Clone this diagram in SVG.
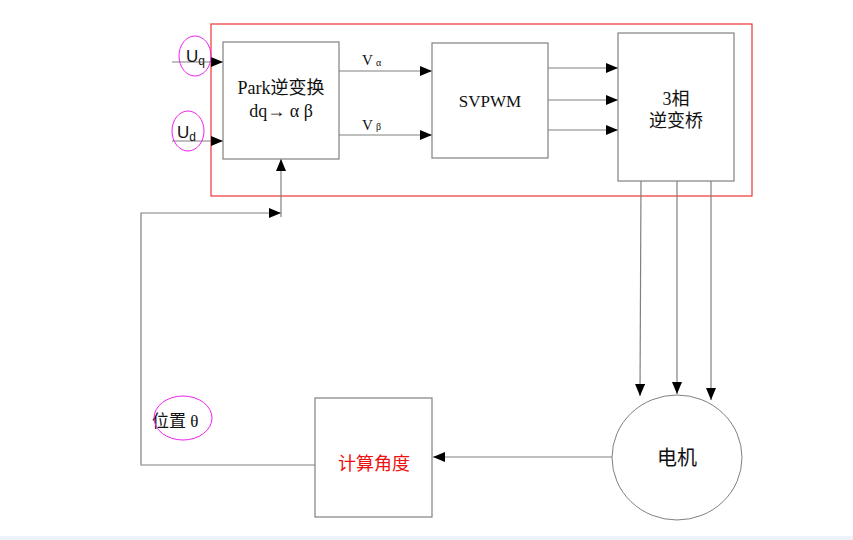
<svg xmlns="http://www.w3.org/2000/svg" width="853" height="540" viewBox="0 0 853 540">
<style>
.box{fill:#fff;stroke:#808080;stroke-width:1.2}
.ln{fill:none;stroke:#808080;stroke-width:1.2}
.ell{fill:none;stroke:#ee22ee;stroke-width:1}
.serif{font-family:"Liberation Serif","Noto Sans CJK SC",serif;fill:#111}
.sans{font-family:"Liberation Sans","Noto Sans CJK SC",sans-serif;fill:#111}
</style>
<defs>
<marker id="arb" viewBox="0 0 12 10" refX="12" refY="5" markerWidth="12" markerHeight="10" markerUnits="userSpaceOnUse" orient="auto">
<path d="M0,0 L12,5 L0,10 Z" fill="#000"/>
</marker>
</defs>
<rect x="0" y="536" width="853" height="4" fill="#eef3f9"/>
<rect x="211" y="24" width="541" height="172" fill="none" stroke="#ee3333" stroke-width="1.2"/>
<g id="connectors">
<line class="ln" x1="172" y1="62" x2="223" y2="62" marker-end="url(#arb)"/>
<line class="ln" x1="172" y1="141" x2="223" y2="141" marker-end="url(#arb)"/>
<line class="ln" x1="339" y1="71" x2="432" y2="71" marker-end="url(#arb)"/>
<line class="ln" x1="339" y1="135" x2="432" y2="135" marker-end="url(#arb)"/>
<line class="ln" x1="548" y1="68" x2="618" y2="68" marker-end="url(#arb)"/>
<line class="ln" x1="548" y1="100" x2="618" y2="100" marker-end="url(#arb)"/>
<line class="ln" x1="548" y1="130" x2="618" y2="130" marker-end="url(#arb)"/>
<line class="ln" x1="641" y1="181" x2="640" y2="396" marker-end="url(#arb)"/>
<line class="ln" x1="677" y1="181" x2="677" y2="394" marker-end="url(#arb)"/>
<line class="ln" x1="711" y1="181" x2="711" y2="400" marker-end="url(#arb)"/>
<line class="ln" x1="612" y1="457" x2="433" y2="457" marker-end="url(#arb)"/>
<polyline class="ln" points="315,465 141,465 141,213 281,213" marker-end="url(#arb)"/>
<line class="ln" x1="281" y1="217" x2="281" y2="159" marker-end="url(#arb)"/>
</g>
<g id="park">
<rect class="box" x="223" y="42" width="116" height="117"/>
<text class="serif" x="281" y="94" font-size="18" text-anchor="middle">Park逆变换</text>
<text class="serif" x="281" y="117" font-size="18" text-anchor="middle">dq→ α β</text>
</g>
<g id="svpwm">
<rect class="box" x="432" y="43" width="116" height="115"/>
<text class="serif" x="490" y="107" font-size="17" text-anchor="middle">SVPWM</text>
</g>
<g id="bridge">
<rect class="box" x="618" y="33" width="116" height="148"/>
<text class="serif" x="676" y="105" font-size="18" text-anchor="middle">3相</text>
<text class="serif" x="676" y="127" font-size="18" text-anchor="middle">逆变桥</text>
</g>
<g id="motor">
<ellipse cx="677" cy="457.5" rx="65" ry="62.5" fill="#fff" stroke="#808080" stroke-width="1"/>
<text class="sans" x="677" y="465" font-size="20" text-anchor="middle">电机</text>
</g>
<g id="calc">
<rect class="box" x="315" y="398" width="117" height="119"/>
<text x="374" y="470" font-size="18" text-anchor="middle" fill="#ee1111" font-family="Liberation Sans,Noto Sans CJK SC,sans-serif">计算角度</text>
</g>
<g id="labels">
<text class="serif" x="362" y="65" font-size="15">V</text>
<text class="serif" x="376" y="66" font-size="10">α</text>
<text class="serif" x="362" y="130" font-size="15">V</text>
<text class="serif" x="376" y="130" font-size="10" fill="#888">β</text>
<text class="sans" x="186" y="62" font-size="17">U<tspan font-size="12" dy="3">q</tspan></text>
<ellipse class="ell" cx="195" cy="56" rx="16" ry="20"/>
<text class="sans" x="177" y="138" font-size="17">U<tspan font-size="12" dy="3">d</tspan></text>
<ellipse class="ell" cx="188" cy="131" rx="16" ry="20"/>
<text class="serif" x="152" y="427" font-size="17">位置 θ</text>
<ellipse class="ell" cx="183" cy="418" rx="29" ry="22"/>
</g>
</svg>
